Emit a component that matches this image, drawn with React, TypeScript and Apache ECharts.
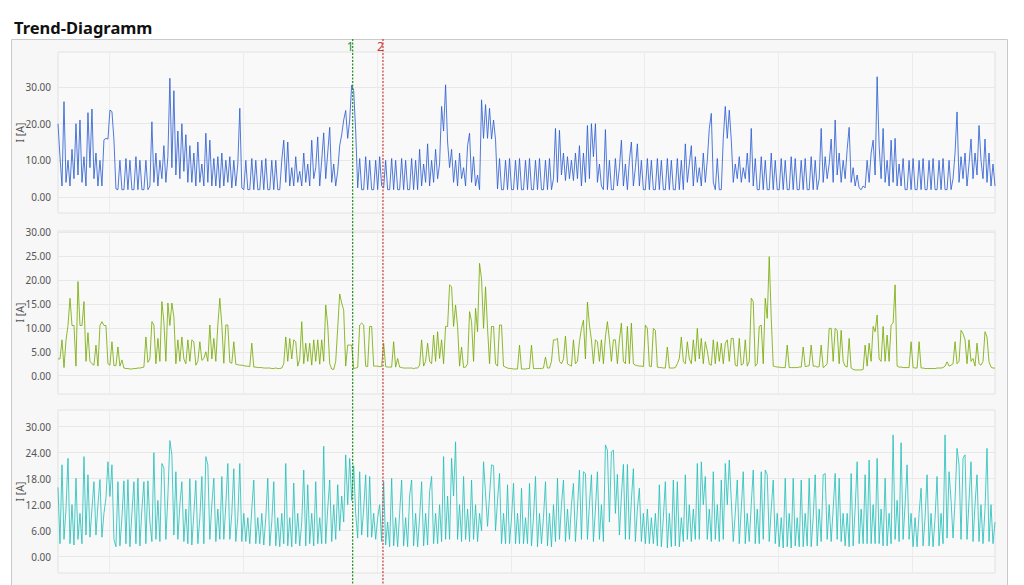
import React, { useEffect, useRef } from "react";
import * as echarts from "echarts";

// time axis (minutes since midnight of day 0)
const START_MINUTE = 887;
const SAMPLE_MINUTES = 21.5;
const DAY_MINUTES = [1440, 2880, 4320, 5760, 7200, 8640, 10080];
const MARKERS = [
  { label: "1", minute: 4058, color: "#1f8f1f" },
  { label: "2", minute: 4384, color: "#c93a3a" },
];

const blueCurrent = [
  20, 11, 3, 26, 4, 10, 3, 13, 5, 20,
  6, 21, 4, 11, 3, 23, 8, 24, 5, 12,
  3, 10, 3, 15.6, 16, 15.8, 23.7, 23.3, 15.6, 2.2,
  2, 10, 2, 2, 10.5, 2, 10, 2, 2, 11,
  2, 10, 2, 2, 10, 2, 3, 20.5, 4, 12,
  3, 10, 5, 14, 4, 11, 32.4, 8, 29, 6,
  18, 5, 20, 7, 17, 4, 14, 4, 12, 3,
  15, 4, 9, 3, 17.4, 4, 15.5, 3, 10.5, 3,
  11, 2.5, 12, 3, 10, 4, 11, 2.5, 10, 3,
  9, 24.2, 2.5, 2, 10, 2, 2, 10.5, 2, 10,
  2, 2, 10, 2, 10.5, 2, 2, 10, 2, 10,
  2, 2, 10, 15.5, 4, 15, 3, 8, 3, 11,
  4, 7, 3, 12, 4, 9, 3, 15.5, 5, 8,
  16.4, 3, 10, 17.5, 5, 12, 19, 4, 9, 3,
  7, 14, 17, 21, 23.6, 16, 21, 30.5, 29, 18,
  2.5, 10.5, 2, 2, 11, 2, 10, 2, 2, 10,
  2, 11, 3, 2.5, 10, 2, 2, 10.5, 2, 10,
  2, 2, 10.5, 2, 10, 2, 2, 10.5, 2, 10,
  2, 13, 3, 9, 4, 14.5, 3, 10, 4, 13,
  5, 9, 24.7, 18, 30.6, 15, 8, 13, 4, 10,
  3, 12, 5, 8, 3, 14, 17.4, 4, 11, 3,
  6, 2, 26.5, 16, 25.2, 16, 24.2, 15.8, 21, 15.6,
  2.2, 10.5, 2, 2, 10, 2, 10.5, 2, 2, 10,
  2, 10.5, 2, 2, 10, 2, 10.5, 2, 2, 10,
  2, 10.5, 2, 2, 10, 2, 10.5, 2, 5, 18.7,
  4, 18.2, 6, 12, 4.5, 11, 5, 10, 4.5, 12,
  5, 14, 3, 12, 4, 19.5, 5, 20, 11, 20,
  4, 9, 3, 2, 18.4, 2, 10, 2, 2, 10.5,
  3, 8, 15.5, 3, 9, 2, 10, 15, 3, 8,
  14.5, 3, 10, 2, 2, 10.5, 2, 10, 2, 2,
  10.5, 2, 10, 2, 2, 10.5, 2, 10, 2, 2,
  10.5, 2, 10, 2, 14.5, 4, 9, 14, 3, 11,
  4, 8, 3, 12, 4, 10, 18.7, 22.8, 4, 2,
  10.5, 2, 2, 16, 24.7, 16, 23.7, 15.5, 4, 9,
  5, 11, 4, 8, 5, 12, 4, 18.7, 3, 10.5,
  2, 2, 11, 2, 10, 2, 2, 12, 2, 10,
  2, 2, 10.5, 2, 10, 2, 2, 11, 2, 10.5,
  2, 2, 10, 2, 10.5, 2, 2, 11, 2, 10,
  2, 5, 18.7, 4, 11, 5, 9, 15.8, 4, 21,
  6, 12, 4, 10, 5, 13, 19, 4, 8, 3,
  6, 2.5, 2, 3, 2.5, 10, 4, 12, 15.5, 6,
  32.8, 14, 5, 18.7, 4, 10, 3, 15.5, 4, 16,
  3, 9, 3, 10.5, 2, 2, 10, 2, 10.5, 2,
  2, 10, 2, 10.5, 2, 2, 10, 2, 10.5, 2,
  2, 10, 2, 10.5, 2, 2, 10, 2, 5, 12,
  23.2, 4, 11, 5, 12, 3, 9, 15.8, 5, 12,
  6, 19.5, 10, 5, 15.8, 4, 12, 3, 9, 3,
];

const greenCurrent = [
  3.5, 3.5, 7.5, 1.7, 7.4, 10.5, 16.2, 10.5, 10.5, 2,
  19.7, 10.5, 10.5, 15.5, 3, 9, 3, 2.5, 2.2, 6.4,
  2, 10.5, 11.3, 10.5, 10.5, 2.5, 2.2, 7.1, 2.1, 2.1,
  6, 2, 3.3, 1.6, 1.5, 1.5, 1.4, 1.4, 1.5, 1.5,
  1.6, 1.6, 1.7, 1.8, 8.1, 2.8, 3.5, 11.3, 10.6, 2.5,
  7.8, 3, 15.5, 11.3, 3, 15.2, 10.5, 15.2, 12.3, 2.5,
  7.5, 3, 8.1, 3.5, 2.5, 7.5, 3, 7.5, 7.1, 2.2,
  3, 7.1, 3.2, 3.6, 5, 3, 10.6, 3.5, 7.8, 3,
  10.6, 16.2, 10.6, 2.6, 10.6, 10.6, 2.8, 2.6, 7.1, 2.4,
  2.3, 2.2, 2.2, 2.1, 2, 2, 1.9, 6.8, 1.8, 1.8,
  1.7, 1.7, 1.7, 1.6, 1.6, 1.6, 1.6, 1.5, 1.5, 1.6,
  1.5, 1.5, 1.6, 2.5, 8.1, 3, 7.8, 3.5, 7.5, 7.1,
  2, 3.5, 11.3, 2.5, 6.8, 3, 6.8, 2.2, 7.5, 3,
  7.5, 2.4, 7.5, 3, 14.8, 10.6, 2.5, 1.4, 1.3, 3,
  9.9, 17.1, 15.2, 13.7, 2, 6.4, 6.4, 6.4, 1.5, 1.6,
  1.7, 10.6, 11, 10.6, 2, 1.9, 10.3, 10.3, 2, 2,
  2, 1.9, 1.9, 6.8, 1.9, 1.8, 1.8, 1.8, 7.1, 1.8,
  3.6, 1.8, 1.7, 1.6, 1.6, 1.6, 1.6, 1.6, 1.5, 1.6,
  1.6, 2.2, 7.5, 2, 3, 6.8, 3, 2.5, 8.5, 3,
  9.2, 3.6, 7.5, 2.5, 10.3, 10.3, 19, 18.6, 10.3, 14.8,
  10.3, 2, 6, 1.7, 1.8, 2.5, 13.4, 11.3, 3, 14.1,
  9.2, 23.5, 20.2, 9.9, 18.6, 9.9, 2.5, 10.3, 10.3, 2.5,
  2, 10.6, 10.6, 2, 1.8, 1.6, 1.5, 1.5, 1.4, 1.4,
  1.4, 6.4, 1.4, 1.4, 1.4, 1.5, 1.5, 6.4, 1.5, 1.5,
  1.5, 1.5, 1.5, 1.6, 3.9, 1.6, 1.6, 3, 7.5, 7.5,
  7.8, 3, 2.5, 3.5, 8.3, 2.5, 2.2, 2, 7.5, 2.5,
  3, 7.1, 9.9, 11.6, 3.5, 15.4, 10.6, 7.5, 2.5, 7.5,
  7.1, 3, 7.5, 2.5, 8.1, 11.3, 7.5, 3, 7.5, 7.5,
  2.5, 7.5, 11, 3, 2.5, 10.3, 2.5, 11, 2.5, 2.2,
  2.1, 2, 2, 1.9, 10.6, 9.9, 2, 1.9, 9.9, 9.5,
  1.8, 1.7, 1.7, 1.6, 1.6, 6, 1.6, 1.6, 1.6, 1.7,
  2.5, 3.6, 8.1, 3, 2.5, 7.1, 3.5, 2.5, 7.5, 3,
  9.9, 3.5, 7.8, 2.5, 7.1, 5.2, 2.4, 2.2, 7.5, 2.5,
  7.1, 3, 6.8, 2.5, 6.8, 7.5, 3, 7.8, 7.8, 2.2,
  2, 7.8, 2.2, 2.5, 7.5, 2, 3, 16.2, 15.5, 2,
  2.5, 10.3, 10.6, 2.5, 16.2, 12, 24.9, 12, 2, 1.9,
  1.8, 1.8, 1.7, 1.7, 1.7, 6.4, 1.7, 1.7, 1.7, 1.7,
  1.7, 1.8, 1.8, 6, 1.9, 2, 2.1, 6.4, 2, 2,
  1.8, 1.9, 6.4, 1.7, 2, 2.5, 9.9, 9.9, 3, 9.9,
  9.5, 2.5, 9.5, 3, 2, 1.8, 7.8, 1.6, 1.3, 1.2,
  1.2, 1.2, 1.2, 1.3, 6.4, 2, 6.8, 3, 10.3, 9.2,
  12.7, 3.5, 3, 10.3, 3, 8.5, 3, 10.6, 11, 19,
  2, 1.8, 1.8, 1.7, 1.7, 1.7, 1.7, 7.1, 1.7, 1.6,
  1.6, 7.1, 1.6, 1.6, 1.5, 1.5, 1.5, 1.5, 1.5, 1.5,
  1.6, 1.6, 1.6, 1.7, 2, 2.9, 2, 2.2, 2.5, 7.1,
  2.5, 3, 9.5, 8.8, 7.5, 2.5, 7.5, 3, 3.6, 2,
  6.8, 2.5, 2.2, 3, 9.2, 8.1, 2.9, 1.8, 1.6, 1.6,
];

const tealCurrent = [
  16, 3, 21.2, 4, 11, 22.7, 3, 12, 2.7, 18.1,
  4, 10, 3, 23.1, 5, 18.9, 4.5, 11, 17.3, 5,
  12, 17.8, 4.5, 10, 13.5, 21.9, 13.9, 21.2, 4, 2.3,
  17.3, 2.5, 9, 17.5, 3, 17.8, 2.3, 10, 17.3, 3,
  18.1, 2.5, 11, 17.3, 3, 17.5, 8, 3.5, 24, 4,
  13, 3.5, 21.5, 20.5, 4, 14, 26.8, 23.5, 5, 19.6,
  4, 12, 17.3, 3.5, 11, 3, 18, 2.7, 10, 17.6,
  3, 9, 18.5, 3, 23.1, 21.2, 4, 12, 18.1, 3.5,
  11, 4, 18.5, 4, 12, 21.5, 4, 10, 20.3, 3.5,
  9, 21.5, 3.5, 10, 3.5, 9, 3, 11, 17.7, 3,
  9, 3, 10, 2.7, 9, 18.1, 2.5, 8, 17.3, 2.5,
  9, 2.3, 10, 3, 21.5, 2.5, 9, 2.3, 17, 3,
  10, 2.5, 8, 20, 2.5, 16.6, 3, 10, 2.5, 17.3,
  3, 9, 3, 25.5, 3, 11, 17.7, 3.5, 12, 4,
  16.6, 6, 14, 8, 23.5, 12, 22.7, 13, 21, 10,
  4.3, 19.6, 5, 11, 18.9, 4.5, 18.5, 4.5, 10, 4,
  9, 12, 3.5, 17.3, 2.7, 8, 2.3, 18.1, 2.5, 9,
  2.3, 10, 17.7, 2.5, 9, 2.3, 14, 17.7, 2.5, 10,
  2.3, 9, 17.3, 2.5, 10, 2.7, 15, 18.5, 3, 10,
  3, 12, 3.5, 23.1, 4, 14, 4, 22.7, 14, 26.5,
  4, 12, 3.5, 18.5, 4, 11, 3.5, 17.7, 4, 12,
  3.5, 10, 6, 21.9, 14.5, 7, 14, 21.2, 21, 6,
  13, 19.2, 3, 10, 3, 16.6, 3, 9, 17, 3,
  10, 3, 15.8, 3, 9, 3, 16.9, 2.5, 9, 18.5,
  2.3, 10, 3, 9, 17.3, 2.5, 10, 2.3, 12, 3.5,
  18.1, 4, 12, 17.7, 3.5, 11, 4, 12, 16.9, 3.5,
  11, 20, 4, 19.6, 19.2, 4, 12, 18.9, 3.5, 11,
  19.6, 4, 12, 3.5, 25.8, 24.6, 8, 24.2, 24.6, 10,
  19, 5, 14, 21.3, 4, 21.3, 4, 13, 20.3, 3.5,
  11, 15.8, 3.5, 10, 3, 11, 3, 9, 3, 10,
  2.5, 16.6, 2.3, 9, 17.3, 2, 10, 2.3, 17.7, 2.5,
  17.3, 2.3, 9, 3.5, 18.9, 4, 12, 3.5, 11, 4,
  21.5, 4, 21.9, 12, 18.5, 4, 11, 3.5, 19.6, 4,
  12, 3.5, 17.7, 4, 21.5, 12, 22.3, 13, 3.5, 10,
  17.7, 3, 11, 19.6, 3, 10, 3.5, 12, 20, 3,
  11, 3, 19.6, 4, 20, 18.9, 3.5, 11, 17.7, 3,
  10, 2.3, 9, 2, 18.1, 2.3, 10, 2, 18.1, 2.5,
  9, 2.3, 17.7, 2.3, 10, 2.5, 18.1, 2.3, 9, 18.9,
  2.5, 11, 3.5, 18.9, 19.2, 4, 12, 3.5, 11, 19.2,
  4, 18.1, 3.5, 10, 2.5, 10, 2.3, 19.2, 2.5, 11,
  21.9, 3, 11, 3, 18.9, 3, 22.3, 3, 12, 3,
  22.7, 3, 11, 2.5, 18.1, 2.5, 10, 3, 28.1, 4,
  13, 3.5, 26.3, 4, 12, 21.2, 4, 10, 2.3, 9,
  2.3, 10, 15.8, 2.5, 9, 18.9, 2.5, 10, 2.3, 9,
  18.5, 2.5, 10, 3, 28.1, 4.3, 19.6, 13, 4.3, 13,
  25, 21.2, 4, 22.7, 23.5, 4, 13, 21.9, 3.5, 12,
  18.9, 3.5, 12, 3, 11, 25, 3.5, 12, 3, 8,
];

const ticksPanel1 = [0, 10, 20, 30];
const ticksPanel2 = [0, 5, 10, 15, 20, 25, 30];
const ticksPanel3 = [0, 6, 12, 18, 24, 30];
const rangePanel1 = [-4.36, 39.55];
const rangePanel2 = [-3.83, 30.27];
const rangePanel3 = [-3.76, 33.85];

const TITLE = "Trend-Diagramm";
const AXIS_NAME = "I [A]";

const FONT = '"Noto Sans", "DejaVu Sans", sans-serif';

export default function App() {
  const ref = useRef<HTMLDivElement>(null);

  useEffect(() => {
    if (!ref.current) return;
    const chart = echarts.init(ref.current, null, { renderer: "svg" });

    const panels = [
      { values: blueCurrent, color: "#2b5dd2", ticks: ticksPanel1, range: rangePanel1, top: 52, height: 161 },
      { values: greenCurrent, color: "#76aa00", ticks: ticksPanel2, range: rangePanel2, top: 231, height: 163 },
      { values: tealCurrent, color: "#22bfba", ticks: ticksPanel3, range: rangePanel3, top: 410, height: 163 },
    ];

    const lastMinute = START_MINUTE + (blueCurrent.length - 1) * SAMPLE_MINUTES;

    const baseGraphics: any[] = [
      {
        id: "frame",
        type: "rect",
        z: -10,
        silent: true,
        shape: { x: 11.5, y: 39.5, width: 996, height: 560 },
        style: { fill: "#f7f7f7", stroke: "#c8cacd", lineWidth: 1 },
      },
      {
        id: "title",
        type: "text",
        x: 14,
        y: 27,
        silent: true,
        style: {
          text: TITLE,
          fill: "#111",
          font: `bold 16.5px ${FONT}`,
          textVerticalAlign: "middle",
          verticalAlign: "middle",
        },
      },
    ];

    const option: any = {
      animation: false,
      graphic: { elements: baseGraphics },
      grid: panels.map((p) => ({
        left: 58,
        width: 937,
        top: p.top,
        height: p.height,
        show: true,
        backgroundColor: "#f9f9f9",
        borderColor: "#e2e2e2",
        borderWidth: 1,
        containLabel: false,
        outerBoundsMode: "none",
      })),
      xAxis: panels.map((p, i) => ({
        gridIndex: i,
        type: "value",
        min: START_MINUTE,
        max: lastMinute,
        axisLine: { show: false },
        axisTick: { show: false, customValues: DAY_MINUTES },
        axisLabel: { show: false },
        splitLine: { show: true, lineStyle: { color: "#ececec", width: 1 } },
      })),
      yAxis: panels.map((p, i) => ({
        gridIndex: i,
        type: "value",
        min: p.range[0],
        max: p.range[1],
        name: AXIS_NAME,
        nameLocation: "middle",
        nameGap: 33,
        nameMoveOverlap: false,
        nameTextStyle: { color: "#555", fontSize: 10.5, fontFamily: FONT },
        axisLine: { show: false },
        axisTick: { show: false, customValues: p.ticks },
        axisLabel: {
          customValues: p.ticks,
          formatter: (v: number) => v.toFixed(2),
          color: "#555",
          fontSize: 10,
          fontFamily: FONT,
          margin: 7,
        },
        splitLine: { show: true, lineStyle: { color: "#e8e8e8", width: 1 } },
      })),
      series: panels.map((p, i) => ({
        type: "line",
        xAxisIndex: i,
        yAxisIndex: i,
        data: p.values.map((v, k) => [START_MINUTE + k * SAMPLE_MINUTES, v]),
        showSymbol: false,
        symbol: "none",
        silent: true,
        z: 3,
        lineStyle: { color: p.color, width: 1, opacity: 0.82 },
      })),
    };

    chart.setOption(option);

    const markerEls: any[] = [];
    MARKERS.forEach((m, idx) => {
      const px = chart.convertToPixel({ xAxisIndex: 0 } as any, m.minute) as number;
      markerEls.push({
        id: "mline" + idx,
        type: "line",
        z: 50,
        silent: true,
        shape: { x1: px, y1: 39, x2: px, y2: 585 },
        style: { stroke: m.color, lineWidth: 1.2, lineDash: [2, 1.5] },
      });
      markerEls.push({
        id: "mlabel" + idx,
        type: "text",
        z: 51,
        silent: true,
        x: px + 1,
        y: 46,
        style: {
          text: m.label,
          fill: m.color,
          font: `12px ${FONT}`,
          textAlign: "right",
          align: "right",
          textVerticalAlign: "middle",
          verticalAlign: "middle",
        },
      });
    });
    chart.setOption({ graphic: { elements: [...baseGraphics, ...markerEls] } });

    return () => chart.dispose();
  }, []);

  return (
    <div
      ref={ref}
      style={{ position: "absolute", left: 0, top: 0, width: 1024, height: 585, background: "#fff" }}
    />
  );
}
